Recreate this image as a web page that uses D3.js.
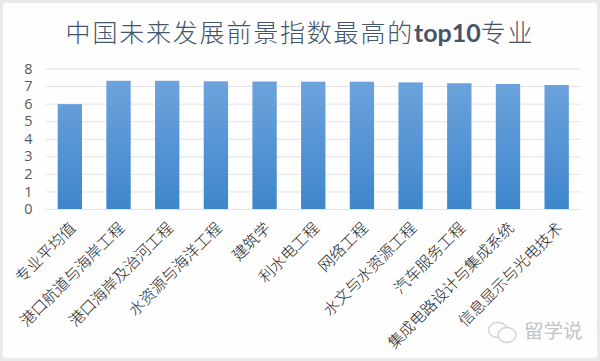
<!DOCTYPE html>
<html>
<head>
<meta charset="utf-8">
<script src="https://d3js.org/d3.v7.min.js"></script>
<style>
  html, body { margin: 0; padding: 0; background: #fff; }
  svg { display: block; }
</style>
</head>
<body>
<div id="chart"></div>
<script>
const categories = ["专业平均值", "港口航道与海岸工程", "港口海岸及治河工程", "水资源与海洋工程", "建筑学", "利水电工程", "网络工程", "水文与水资源工程", "汽车服务工程", "集成电路设计与集成系统", "信息显示与光电技术"];
const values = [5.97, 7.3, 7.3, 7.27, 7.26, 7.25, 7.25, 7.21, 7.16, 7.12, 7.06];
const yTicks = [0, 1, 2, 3, 4, 5, 6, 7, 8];

const width = 600, height = 361;
const margin = { top: 68.5, right: 19, bottom: 152, left: 45.5 };

const svg = d3.select("#chart").append("svg")
  .attr("width", width)
  .attr("height", height);

// grey frame round the white plot card
svg.append("rect").attr("width", width).attr("height", height).attr("fill", "#e9e9ec");
svg.append("rect").attr("x", 3).attr("y", 3).attr("width", 594).attr("height", 355).attr("rx", 3).attr("fill", "#fefefe");

const grad = svg.append("defs").append("linearGradient")
  .attr("id", "barFill")
  .attr("gradientUnits", "userSpaceOnUse")
  .attr("x1", 0).attr("x2", 0)
  .attr("y1", margin.top).attr("y2", height - margin.bottom);
grad.append("stop").attr("offset", "0%").attr("stop-color", "#72a6de");
grad.append("stop").attr("offset", "100%").attr("stop-color", "#3e86cc");

const xScale = d3.scaleBand()
  .domain(categories)
  .range([margin.left, width - margin.right])
  .paddingInner(0.5)
  .paddingOuter(0.25);

const yScale = d3.scaleLinear()
  .domain([0, 8])
  .range([height - margin.bottom, margin.top]);

// y axis, only labels and gridlines
const yAxis = d3.axisLeft(yScale)
  .tickValues(yTicks)
  .tickSize(-(width - margin.left - margin.right))
  .tickPadding(13);

const yG = svg.append("g")
  .attr("transform", `translate(${margin.left},0)`)
  .call(yAxis);
yG.select(".domain").remove();
yG.selectAll(".tick line").attr("stroke", "#e3e3e6").attr("stroke-width", 1);
yG.selectAll(".tick text")
  .attr("fill", "#595959")
  .style("font-family", "'Open Sans', sans-serif")
  .style("font-size", "14.5px");

svg.selectAll(".bar")
  .data(values)
  .enter().append("rect")
  .attr("class", "bar")
  .attr("x", (d, i) => xScale(categories[i]))
  .attr("y", d => yScale(d))
  .attr("width", xScale.bandwidth())
  .attr("height", d => yScale(0) - yScale(d))
  .attr("fill", "url(#barFill)");

// rotated category labels, end of the text sits under the bar
const xAxis = d3.axisBottom(xScale).tickSize(0).tickPadding(0);
const xG = svg.append("g")
  .attr("transform", `translate(0,${height - margin.bottom})`)
  .call(xAxis);
xG.select(".domain").remove();
xG.selectAll(".tick text")
  .attr("text-anchor", "end")
  .attr("dy", 0)
  .attr("y", 0)
  .attr("transform", "translate(4,17) rotate(-45)")
  .attr("dominant-baseline", "middle")
  .attr("fill", "#222")
  .style("font-family", "'Noto Sans CJK SC', sans-serif")
  .style("font-weight", 300)
  .style("font-size", "15.5px");

const title = svg.append("text")
  .attr("x", 300)
  .attr("y", 42)
  .attr("text-anchor", "middle")
  .attr("fill", "#44546a")
  .style("font-family", "'Noto Sans CJK SC', sans-serif")
  .style("font-weight", 300)
  .style("font-size", "25px")
  .style("letter-spacing", "1.8px");
title.append("tspan").text("中国未来发展前景指数最高的");
title.append("tspan").text("top10").style("font-family", "Lato, sans-serif").style("font-weight", 700).style("letter-spacing", "0");
title.append("tspan").text("专业");

// watermark
const mark = svg.append("g").attr("fill", "#fefefe").attr("stroke", "#d2d2d2").attr("stroke-width", 1.4);
mark.append("ellipse").attr("cx", 498).attr("cy", 330).attr("rx", 9.5).attr("ry", 7.5);
mark.append("ellipse").attr("cx", 507).attr("cy", 335).attr("rx", 9).attr("ry", 7.5);
svg.append("text")
  .attr("x", 524)
  .attr("y", 338)
  .attr("fill", "#c4c4c4")
  .style("font-family", "'Noto Sans CJK SC', sans-serif")
  .style("font-size", "19.5px")
  .text("留学说");
</script>
</body>
</html>
